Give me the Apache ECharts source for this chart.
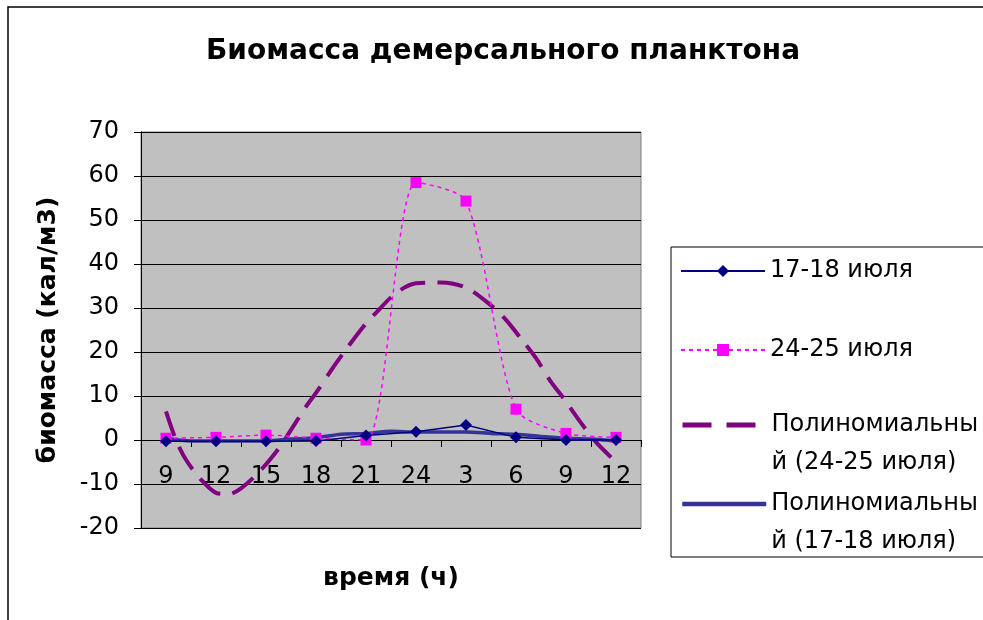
<!DOCTYPE html>
<html lang="ru">
<head>
  <meta http-equiv="Content-Type" content="text/html; charset=UTF-8">
  <title>Биомасса демерсального планктона</title>
  <style>
    html, body { margin: 0; padding: 0; background: #fff; }
  </style>
</head>
<body>
  <div id="chart" style="width: 983px; height: 620px;"></div>
  <script src="https://cdn.jsdelivr.net/npm/echarts@6/dist/echarts.min.js"></script>
  <script>
    // время (ч)
    const hours = ['9', '12', '15', '18', '21', '24', '3', '6', '9', '12'];
    // биомасса, кал/м3
    const july17 = [-0.3, -0.3, -0.3, -0.2, 1.0, 1.9, 3.4, 0.6, 0, 0];
    const july24 = [0.4, 0.6, 1.1, 0.4, 0, 58.5, 54.3, 7, 1.5, 0.6];
    // линии тренда: [номер точки, значение]
    const trend24 = [
      [1, 6.5], [1.2, 0], [1.4, -4.5], [1.7, -9], [2, -12], [2.25, -12.3], [2.5, -11],
      [2.9, -6.8], [3.25, -2], [3.5, 2.3], [3.8, 7.6], [4, 10.7], [4.35, 16.6], [4.55, 19.8],
      [4.95, 25.8], [5.2, 28.9], [5.6, 33.4], [6, 35.6], [6.5, 35.8], [7, 34.6], [7.5, 30.6],
      [7.8, 27.3], [8.15, 22.3], [8.4, 18.6], [8.7, 13.2], [8.95, 9.5], [9.3, 3.9], [9.6, -0.5], [10, -5]
    ];
    const trend17 = [
      [1, 0.4], [1.5, -0.2], [2, -0.2], [2.5, -0.2], [3, -0.2], [3.5, 0.2], [4, 0.5], [4.5, 1.3],
      [5, 1.5], [5.5, 2], [6, 1.8], [6.5, 1.8], [7, 1.8], [7.5, 1.5], [8, 1.3], [8.5, 0.8],
      [9, 0.4], [9.5, 0.2], [10, -0.2]
    ];

    const names = ['17-18 июля', '24-25 июля', 'Полиномиальный (24-25 июля)', 'Полиномиальный (17-18 июля)'];
    const font = '"DejaVu Sans", Verdana, sans-serif';

    const myChart = echarts.init(document.getElementById('chart'));

    // у линий тренда подпись в две строки, значок напротив первой:
    // пустая строка сверху сдвигает середину текста на первую строку
    const legendTops = [252, 331, 368, 447];
    const legendLines = [{}, {}, { width: 5, type: [29, 15] }, { width: 4.5 }];
    const legends = names.map((n, i) => ({
      data: [n],
      orient: 'vertical',
      left: 680,
      top: legendTops[i],
      padding: 0,
      itemWidth: i === 2 ? 73 : 84,
      itemHeight: 15,
      itemGap: 0,
      itemStyle: i >= 2 ? { opacity: 0 } : {},
      lineStyle: legendLines[i],
      textStyle: {
        fontFamily: font,
        fontSize: 24,
        color: '#000',
        lineHeight: 38,
        padding: i === 2 ? [0, 0, 0, 11] : 0
      },
      formatter: (name) => name.startsWith('Полиномиальный')
        ? '\n' + name.replace('Полиномиальный', 'Полиномиальны\nй')
        : name
    }));

    const option = {
      animation: false,
      backgroundColor: '#fff',
      title: {
        text: 'Биомасса демерсального планктона',
        left: 498,
        top: 33,
        textAlign: 'center',
        textStyle: {
          fontFamily: font,
          fontSize: 28,
          fontWeight: 'bold',
          color: '#000'
        }
      },
      graphic: [
        {
          type: 'rect',
          z: -10,
          shape: { x: 8, y: 7, width: 1000, height: 700 },
          style: { fill: 'none', stroke: '#000', lineWidth: 1.5 }
        },
        {
          type: 'rect',
          z: -5,
          shape: { x: 671, y: 247, width: 400, height: 310 },
          style: { fill: '#fff', stroke: '#000', lineWidth: 1 }
        }
      ],
      legend: legends,
      grid: {
        left: 141,
        top: 132,
        width: 500,
        height: 396,
        outerBoundsMode: 'none',
        containLabel: false,
        show: true,
        backgroundColor: '#C0C0C0',
        borderColor: '#808080',
        borderWidth: 1
      },
      xAxis: [{
        type: 'category',
        data: hours,
        boundaryGap: true,
        // ось проходит через 0: низ сетки 528, ноль на 440
        offset: -88,
        name: 'время (ч)',
        nameLocation: 'middle',
        nameGap: 126,
        nameTextStyle: {
          fontFamily: font,
          fontSize: 25,
          fontWeight: 'bold',
          color: '#000'
        },
        axisLine: { onZero: false, lineStyle: { color: '#000', width: 1 } },
        axisTick: { show: true, length: 7, lineStyle: { color: '#000' } },
        axisLabel: {
          margin: 25,
          fontFamily: font,
          fontSize: 24,
          color: '#000'
        },
        splitLine: { show: false }
      }, {
        type: 'value',
        min: 0.5,
        max: 10.5,
        show: false,
        axisLine: { onZero: false }
      }],
      yAxis: {
        type: 'value',
        min: -20,
        max: 70,
        interval: 10,
        name: 'биомасса (кал/м3)',
        nameLocation: 'middle',
        nameGap: 80,
        nameTextStyle: {
          fontFamily: font,
          fontSize: 25,
          fontWeight: 'bold',
          color: '#000'
        },
        axisLine: { show: true, onZero: false, lineStyle: { color: '#000', width: 1 } },
        axisTick: { show: true, length: 7, lineStyle: { color: '#000' } },
        axisLabel: {
          margin: 22,
          fontFamily: font,
          fontSize: 24,
          color: '#000'
        },
        splitLine: { show: true, lineStyle: { color: '#000', width: 1 } }
      },
      series: [
        {
          name: names[0],
          type: 'line',
          data: july17,
          symbol: 'diamond',
          symbolSize: 12,
          itemStyle: { color: '#000080' },
          lineStyle: { color: '#000080', width: 1.5 },
          z: 5
        },
        {
          name: names[1],
          type: 'line',
          data: july24,
          smooth: 0.25,
          symbol: 'rect',
          symbolSize: 11,
          itemStyle: { color: '#FF00FF' },
          lineStyle: { color: '#FF00FF', width: 1.5, type: [4, 4] },
          z: 4
        },
        {
          name: names[2],
          type: 'line',
          xAxisIndex: 1,
          data: trend24,
          smooth: 0.3,
          symbol: 'none',
          itemStyle: { color: '#800080' },
          lineStyle: { color: '#800080', width: 4, type: [26, 12] },
          z: 3
        },
        {
          name: names[3],
          type: 'line',
          xAxisIndex: 1,
          data: trend17,
          smooth: 0.3,
          symbol: 'none',
          itemStyle: { color: '#333399' },
          lineStyle: { color: '#333399', width: 3.5 },
          z: 3
        }
      ]
    };
    myChart.setOption(option);
  </script>
</body>
</html>
